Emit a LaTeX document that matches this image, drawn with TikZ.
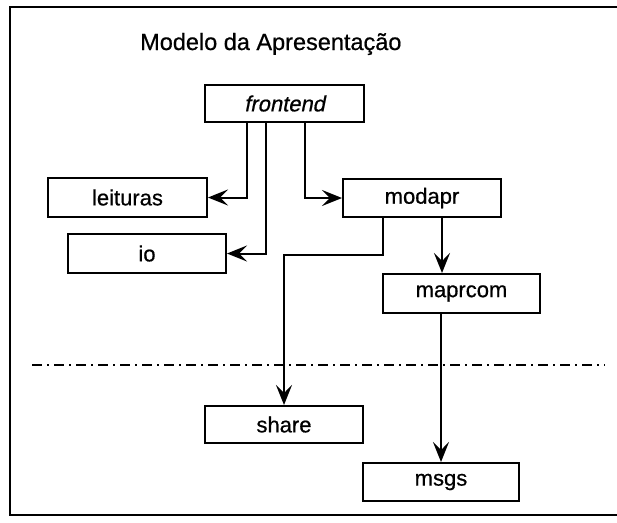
\documentclass[tikz,border=0pt]{standalone}
\usepackage{fontspec}
\setmainfont{Liberation Sans}
\newfontfamily\scanfont[FakeBold=0.6]{Liberation Sans}
\newfontfamily\scanfontit[FakeBold=0.6,FakeSlant=0.2]{Liberation Sans}
\usetikzlibrary{arrows.meta,calc}
\begin{document}
\begin{tikzpicture}[x=1pt,y=-1pt,
  box/.style={draw,line width=2pt,minimum width=158pt,minimum height=38pt,inner sep=0pt,font=\scanfont\fontsize{22}{24}\selectfont},
  arr/.style={line width=2pt,-{Stealth[length=20pt,width=16pt,inset=8pt]}},
  frame/.style={line width=1.6pt},
  sep/.style={line width=1.3pt,dash pattern=on 10pt off 5pt on 2pt off 5pt}
  ]
\useasboundingbox (0,0) rectangle (617,522);
% frame
\coordinate (f1) at (617,7);
\coordinate (f2) at (10,7);
\coordinate (f3) at (10,515);
\coordinate (f4) at (617,515);
\draw[frame] (f1) -- (f2) -- (f3) -- (f4);
% title
\node[anchor=base west,inner sep=0pt,font=\scanfont\fontsize{23.5}{26}\selectfont] (title) at (140,50) {Modelo da Apresentação};
% boxes
\node[box,minimum width=159pt,minimum height=37pt] (frontend) at (284.5,103.5) {\scanfontit frontend};
\node[box,minimum width=159pt,minimum height=39pt] (leituras) at (127.5,197.5) {leituras};
\node[box,minimum height=39pt] (io) at (147,253.5) {io};
\node[box] (modapr) at (422,198) {modapr};
\node[box,minimum width=157pt,minimum height=39pt] (maprcom) at (461.5,293.5) {maprcom};
\node[box,minimum height=37pt] (share) at (284,424.5) {share};
\node[box,minimum width=156pt] (msgs) at (441,482) {msgs};
% connector columns
\coordinate (xl) at (247,0);
\coordinate (xi) at (266,0);
\coordinate (xm) at (305,0);
\coordinate (xs) at (383,0);
\coordinate (xc) at (442,0);
\coordinate (bend) at (284,255);
% connectors
\draw[arr] (frontend.south -| xl) |- (leituras.east);
\draw[arr] (frontend.south -| xi) |- (io.east);
\draw[arr] (frontend.south -| xm) |- (modapr.west);
\draw[arr] (modapr.south -| xs) |- (bend) -- (share.north);
\draw[arr] (modapr.south -| xc) -- (maprcom.north -| xc);
\draw[arr] (maprcom.south -| msgs.north) -- (msgs.north);
% separator
\coordinate (dl) at (32,365);
\coordinate (dr) at (605,365);
\draw[sep] (dl) -- (dr);
\end{tikzpicture}
\end{document}
